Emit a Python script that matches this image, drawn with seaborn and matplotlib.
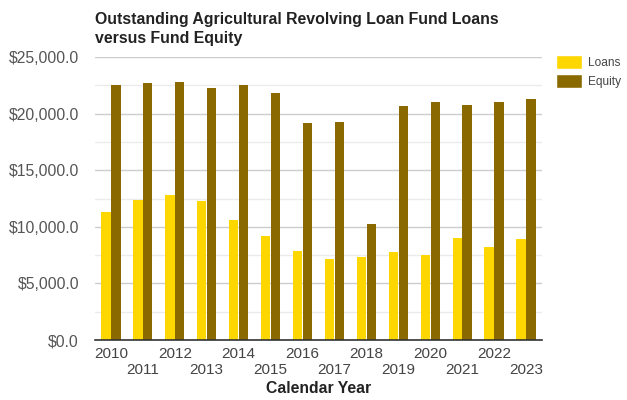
import pandas as pd
import seaborn as sns
import matplotlib.pyplot as plt
from matplotlib.patches import Patch
from matplotlib.ticker import MultipleLocator, FuncFormatter

# --- DADOS ---
years = [str(y) for y in range(2010, 2024)]
loans = [11330, 12370, 12840, 12250, 10630, 9210, 7880, 7170, 7290, 7790, 7470, 9030, 8200, 8910]
equity = [22490, 22700, 22790, 22280, 22490, 21780, 19160, 19270, 10240, 20660, 20990, 20780, 20990, 21280]
series = ["Loans", "Equity"]
colors = ["#ffd700", "#8a6a00"]

df = pd.DataFrame({"Year": years * 2,
                   "Value": loans + equity,
                   "Series": ["Loans"] * len(years) + ["Equity"] * len(years)})

sns.set_style("white")
plt.rcParams['font.family'] = ['Liberation Sans', 'DejaVu Sans']

fig = plt.figure(figsize=(6.27, 4.0), dpi=100)
ax = fig.add_axes([0.1515, 0.15, 0.7129, 0.7075])

sns.barplot(data=df, x="Year", y="Value", hue="Series", hue_order=series,
            palette=colors, width=0.62, gap=0.06, ax=ax, legend=False,
            edgecolor="none", saturation=1)

ax.set_ylim(0, 25000)
ax.set_xlim(-0.5, len(years) - 0.5)
ax.yaxis.set_major_locator(MultipleLocator(5000))
ax.yaxis.set_minor_locator(MultipleLocator(2500))
ax.yaxis.set_major_formatter(FuncFormatter(lambda v, p: f"${v:,.1f}"))
ax.grid(axis="y", which="major", color="#cccccc", linewidth=1)
ax.grid(axis="y", which="minor", color="#ebebeb", linewidth=1)
ax.set_axisbelow(True)
for s in ["top", "right", "left"]:
    ax.spines[s].set_visible(False)
ax.spines["bottom"].set_color("#333333")
ax.spines["bottom"].set_linewidth(1.2)

# rótulos alternados em duas linhas
ax.set_xticks(range(len(years)))
ax.set_xticklabels([y if i % 2 == 0 else "\n" + y for i, y in enumerate(years)])
ax.tick_params(axis="x", length=0, pad=5, labelsize=11, labelcolor="#444444")
ax.tick_params(axis="y", which="both", length=0, pad=11.5, labelsize=11.3, labelcolor="#555555")

ax.set_xlabel("Calendar Year", fontsize=11.3, fontweight="bold", color="#222222", labelpad=3)
ax.set_ylabel("")

fig.text(0.1515, 0.97, "Outstanding Agricultural Revolving Loan Fund Loans\nversus Fund Equity",
         fontsize=11.4, fontweight="bold", color="#222222", va="top", ha="left", linespacing=1.3)

handles = [Patch(facecolor=c, label=s) for c, s in zip(colors, series)]
fig.legend(handles=handles, loc="upper left", bbox_to_anchor=(0.886, 0.862), frameon=False,
           handlelength=2.25, handleheight=1.45, handletextpad=0.5, labelspacing=0.35,
           fontsize=8.6, labelcolor="#444444", borderaxespad=0, borderpad=0)

plt.savefig("out.png", dpi=100)
